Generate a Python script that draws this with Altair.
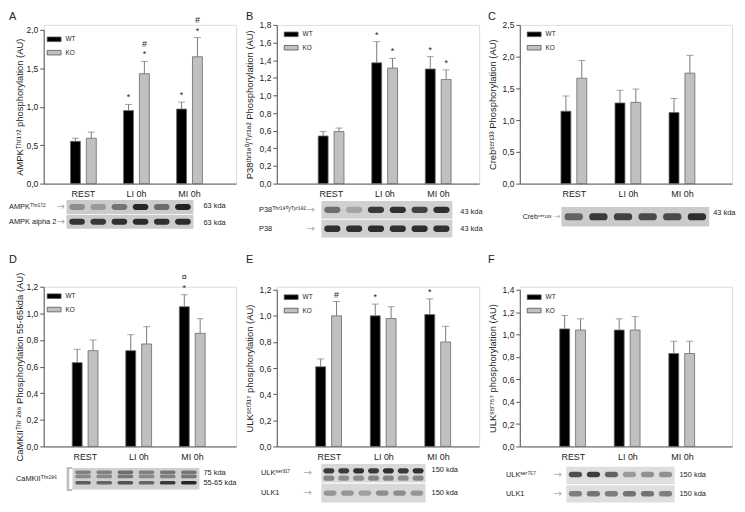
import altair as alt
import pandas as pd

FONT = "Liberation Sans"
AXIS_COL = "#555555"
ERR_COL = "#7a7a7a"
WT_FILL = "#000000"
KO_FILL = "#c0c0c0"

CATS = ["REST", "LI 0h", "MI 0h"]
GROUPS = ["WT", "KO"]

# ---------------- bar values (mean) and upper error (SEM) ----------------
A_WT = [0.55, 0.95, 0.97]
A_WT_ERR = [0.04, 0.08, 0.09]
A_KO = [0.59, 1.43, 1.65]
A_KO_ERR = [0.08, 0.16, 0.25]

B_WT = [0.54, 1.37, 1.30]
B_WT_ERR = [0.05, 0.24, 0.14]
B_KO = [0.59, 1.31, 1.18]
B_KO_ERR = [0.04, 0.11, 0.11]

C_WT = [1.14, 1.27, 1.12]
C_WT_ERR = [0.24, 0.20, 0.22]
C_KO = [1.66, 1.28, 1.74]
C_KO_ERR = [0.28, 0.21, 0.28]

D_WT = [0.63, 0.72, 1.05]
D_WT_ERR = [0.10, 0.12, 0.09]
D_KO = [0.72, 0.77, 0.85]
D_KO_ERR = [0.08, 0.13, 0.11]

E_WT = [0.61, 1.00, 1.01]
E_WT_ERR = [0.06, 0.09, 0.12]
E_KO = [1.00, 0.98, 0.80]
E_KO_ERR = [0.11, 0.09, 0.12]

F_WT = [1.05, 1.04, 0.83]
F_WT_ERR = [0.12, 0.10, 0.11]
F_KO = [1.04, 1.04, 0.83]
F_KO_ERR = [0.10, 0.12, 0.11]

# significance marks: (category, group, symbol, level)
A_MARKS = [("LI 0h", "WT", "*", 1), ("LI 0h", "KO", "*", 1), ("LI 0h", "KO", "#", 2),
           ("MI 0h", "WT", "*", 1), ("MI 0h", "KO", "*", 1), ("MI 0h", "KO", "#", 2)]
B_MARKS = [("LI 0h", "WT", "*", 1), ("LI 0h", "KO", "*", 1),
           ("MI 0h", "WT", "*", 1), ("MI 0h", "KO", "*", 1)]
C_MARKS = []
D_MARKS = [("MI 0h", "WT", "*", 1), ("MI 0h", "WT", "¤", 2)]
E_MARKS = [("REST", "KO", "#", 1), ("LI 0h", "WT", "*", 1), ("MI 0h", "WT", "*", 1)]
F_MARKS = []

# axis ticks
A_TICKS = [0.0, 0.5, 1.0, 1.5, 2.0]
B_TICKS = [0.0, 0.2, 0.4, 0.6, 0.8, 1.0, 1.2, 1.4, 1.6, 1.8]
C_TICKS = [0.0, 0.5, 1.0, 1.5, 2.0, 2.5]
D_TICKS = [0.0, 0.2, 0.4, 0.6, 0.8, 1.0, 1.2]
E_TICKS = [0.0, 0.2, 0.4, 0.6, 0.8, 1.0, 1.2]
F_TICKS = [0.0, 0.2, 0.4, 0.6, 0.8, 1.0, 1.2, 1.4]

A_TITLE = "AMPKᵀʰʳ¹⁷² phosphorylation (AU)"
B_TITLE = "P38ᵗʰʳ¹⁸⁰/ᵀʸʳ¹⁸² Phosphorylation (AU)"
C_TITLE = "Crebˢᵉʳ¹³³ Phosphorylation (AU)"
D_TITLE = "CaMKIIᵀʰʳ ²⁸⁶ Phosphorylation 55-65kda (AU)"
E_TITLE = "ULKˢᵉʳ³¹⁷ phosphorylation (AU)"
F_TITLE = "ULKˢᵉʳ⁷⁵⁷ phosphorylation (AU)"

# ---------------- western blot strips (band intensities per lane) ----------------
A_BLOT_NAMES = ["AMPKᵀʰʳ¹⁷²", "AMPK alpha 2"]
A_BLOT_ROWS = [(0, 0.5, [0.35, 0.28, 0.5, 0.95, 0.55, 0.98]),
               (1, 0.5, [0.88, 0.86, 0.9, 0.92, 0.9, 0.93])]
A_BLOT_KDA = [(0, 0.45, "63 kda"), (1, 0.6, "63 kda")]

B_BLOT_NAMES = ["P38ᵀʰʳ¹⁸⁰/ᵀʸʳ¹⁸²", "P38"]
B_BLOT_ROWS = [(0, 0.5, [0.55, 0.25, 0.85, 0.9, 0.8, 0.9]),
               (1, 0.5, [0.9, 0.9, 0.92, 0.9, 0.92, 0.9])]
B_BLOT_KDA = [(0, 0.6, "43 kda"), (1, 0.5, "43 kda")]

C_BLOT_NAMES = ["Crebˢᵉʳ¹³³"]
C_BLOT_ROWS = [(0, 0.5, [0.6, 0.85, 0.8, 0.75, 0.75, 0.9])]
C_BLOT_KDA = [(0, 0.3, "43 kda")]

D_BLOT_NAMES = ["CaMKIIᵀʰʳ²⁸⁶"]
D_BLOT_ROWS = [(0, 0.22, [0.45, 0.45, 0.55, 0.45, 0.5, 0.5]),
               (0, 0.40, [0.4, 0.4, 0.5, 0.4, 0.45, 0.5]),
               (0, 0.68, [0.65, 0.6, 0.7, 0.6, 0.85, 0.95])]
D_BLOT_KDA = [(0, 0.25, "75 kda"), (0, 0.7, "55-65 kda")]

E_BLOT_NAMES = ["ULKˢᵉʳ³¹⁷", "ULK1"]
E_BLOT_ROWS = [(0, 0.38, [0.85, 0.85, 0.9, 0.85, 0.9, 0.85, 0.9]),
               (0, 0.75, [0.45, 0.4, 0.4, 0.45, 0.45, 0.4, 0.45]),
               (1, 0.5, [0.35, 0.35, 0.3, 0.4, 0.4, 0.35])]
E_BLOT_KDA = [(0, 0.35, "150 kda"), (1, 0.5, "150 kda")]

F_BLOT_NAMES = ["ULKˢᵉʳ⁷⁵⁷", "ULK1"]
F_BLOT_ROWS = [(0, 0.45, [0.75, 0.85, 0.65, 0.35, 0.4, 0.4]),
               (1, 0.5, [0.5, 0.55, 0.5, 0.55, 0.55, 0.5])]
F_BLOT_KDA = [(0, 0.45, "150 kda"), (1, 0.5, "150 kda")]

LABEL_EXPR = "replace(format(datum.value, '.1f'), '.', ',')"


def blot_group(names, rows, kdas, g):
    ns = len(names)
    bxs = alt.Scale(domain=[0, 1], range=[g["x0"], g["x1"]], nice=False, zero=False)
    bys = alt.Scale(domain=[0, ns], range=[g["y0"], g["y1"]], nice=False, zero=False)
    sdf = pd.DataFrame({"a": [0.0] * ns, "b": [1.0] * ns,
                        "top": [s + 0.03 for s in range(ns)],
                        "bot": [s + 0.97 for s in range(ns)]})
    bg = alt.Chart(sdf).mark_rect(color=g["bg"]).encode(
        x=alt.X("a:Q", scale=bxs, axis=None), x2="b:Q",
        y=alt.Y("top:Q", scale=bys, axis=None), y2="bot:Q")
    brows = []
    for s, pos, vals in rows:
        n = len(vals)
        for j, v in enumerate(vals):
            c = (j + 0.5) / n
            brows.append(dict(a=c - 0.37 / n, b=c + 0.37 / n,
                              top=s + pos - g["bh"], bot=s + pos + g["bh"], op=v))
    bdf = pd.DataFrame(brows)
    band = alt.Chart(bdf).mark_rect(color="#1e1e1e", cornerRadius=3).encode(
        x=alt.X("a:Q", scale=bxs, axis=None), x2="b:Q",
        y=alt.Y("top:Q", scale=bys, axis=None), y2="bot:Q",
        opacity=alt.Opacity("op:Q", scale=None, legend=None))
    ndf = pd.DataFrame({"yc": [s + 0.5 for s in range(ns)], "name": names})
    layers = [bg, band]
    layers.append(alt.Chart(ndf).mark_text(align="left", baseline="middle",
                                           fontSize=g.get("fs", 7.5),
                                           font=FONT, color="#222222").encode(
        x=alt.value(g["lx"]), y=alt.Y("yc:Q", scale=bys, axis=None), text="name:N"))
    if g.get("arrow", True):
        layers.append(alt.Chart(ndf).mark_text(align="left", baseline="middle",
                                               fontSize=g.get("afs", 10),
                                               font="DejaVu Sans", color="#aaaaaa").encode(
            x=alt.value(g["ax"]), y=alt.Y("yc:Q", scale=bys, axis=None), text=alt.value("→")))
    else:
        layers.append(alt.Chart(ndf).mark_text(align="left", baseline="middle", fontSize=26,
                                               font="DejaVu Sans", color="#bbbbbb").encode(
            x=alt.value(g["ax"]), y=alt.Y("yc:Q", scale=bys, axis=None), text=alt.value("[")))
    kdf = pd.DataFrame({"yc": [s + p for s, p, t in kdas], "txt": [t for s, p, t in kdas]})
    layers.append(alt.Chart(kdf).mark_text(align="left", baseline="middle", fontSize=7.5,
                                           font=FONT, color="#222222").encode(
        x=alt.value(g["kx"]), y=alt.Y("yc:Q", scale=bys, axis=None), text="txt:N"))
    return alt.layer(*layers)


def panel(p):
    W, H = p["W"], p["H"]
    rows = []
    for i, c in enumerate(CATS):
        rows.append(dict(cat=c, grp="WT", val=p["wt"][i], hi=p["wt"][i] + p["wt_err"][i]))
        rows.append(dict(cat=c, grp="KO", val=p["ko"][i], hi=p["ko"][i] + p["ko_err"][i]))
    df = pd.DataFrame(rows)

    step, c0 = p["step"], p["c0"]
    po = (W / step - 3) / 2
    align = (c0 - step / 2) / (W - 3 * step)
    xscale = alt.Scale(domain=CATS, paddingInner=0, paddingOuter=po, align=align)
    xoscale = alt.Scale(domain=GROUPS, paddingInner=0, paddingOuter=step / 32 - 1)
    xaxis = alt.Axis(title=None, ticks=False, labelAngle=0, labelFontSize=9, labelPadding=6,
                     labelOffset=p.get("loff", 0), domainColor=AXIS_COL, labelColor="#222222",
                     labelFont=FONT)
    yscale = alt.Scale(domain=[0, p["ymax"]], range=[H, p["ytop"]], nice=False, zero=True)
    yaxis = alt.Axis(values=p["ticks"], title=p["title"], labelExpr=LABEL_EXPR, labelFontSize=8.5,
                     labelFont=FONT, labelColor="#222222", tickSize=4, tickColor=AXIS_COL,
                     domainColor=AXIS_COL, labelPadding=2, titleFont=FONT, titleFontSize=9.5,
                     titleFontWeight="normal", titleColor="#222222", titlePadding=p.get("tpad", 5),
                     titleLimit=400, grid=False)

    X = alt.X("cat:N", sort=CATS, scale=xscale, axis=xaxis)
    XO = alt.XOffset("grp:N", sort=GROUPS, scale=xoscale)

    def Y(f):
        return alt.Y(f + ":Q", scale=yscale, axis=yaxis)

    bars = alt.Chart(df).mark_bar(width=10, stroke="#6a6a6a", strokeWidth=0.8).encode(
        x=X, xOffset=XO, y=Y("val"),
        color=alt.Color("grp:N", sort=GROUPS,
                        scale=alt.Scale(domain=GROUPS, range=[WT_FILL, KO_FILL]),
                        legend=alt.Legend(title=None, orient="none", legendX=p["lg"][0],
                                          legendY=p["lg"][1], padding=0,
                                          symbolType="M-1,-0.33H1V0.33H-1Z", symbolSize=196,
                                          symbolStrokeColor="#555555", symbolStrokeWidth=0.8,
                                          labelFontSize=6.5, labelFont=FONT, labelColor="#222222",
                                          rowPadding=1.5, labelOffset=4)))
    rule = alt.Chart(df).mark_rule(color=ERR_COL, strokeWidth=1).encode(
        x=X, xOffset=XO, y=Y("val"), y2="hi:Q")
    cap = alt.Chart(df).mark_tick(color=ERR_COL, size=7, thickness=1).encode(
        x=X, xOffset=XO, y=Y("hi"))
    layers = [bars, rule, cap]

    if p["marks"]:
        mdf = pd.DataFrame(p["marks"], columns=["cat", "grp", "sym", "lvl"]).merge(
            df[["cat", "grp", "hi"]], on=["cat", "grp"])
        for lvl, dy in ((1, -2), (2, -13)):
            sub = mdf[mdf["lvl"] == lvl]
            if len(sub):
                layers.append(alt.Chart(sub).mark_text(baseline="bottom", dy=dy, fontSize=9,
                                                       font=FONT, color="#222222").encode(
                    x=X, xOffset=XO, y=Y("hi"), text="sym:N"))

    ldf = pd.DataFrame({"t": [p["letter"]]})
    layers.append(alt.Chart(ldf).mark_text(align="left", baseline="top", fontSize=11, font=FONT,
                                           color="#222222").encode(
        x=alt.value(p["letter_xy"][0]), y=alt.value(p["letter_xy"][1]), text="t:N"))

    bars_group = alt.layer(*layers)
    blot = blot_group(p["bnames"], p["brows"], p["bkda"], p["bgeom"])
    return alt.layer(bars_group, blot).resolve_scale(x="independent", y="independent").properties(
        width=W, height=H)


H1, H2 = 160, 161
PANELS = [
    dict(letter="A", wt=A_WT, wt_err=A_WT_ERR, ko=A_KO, ko_err=A_KO_ERR, marks=A_MARKS,
         ymax=2.0, ticks=A_TICKS, title=A_TITLE, W=194, H=H1, ytop=5, c0=40, step=53.5, tpad=2,
         lg=(3, 7), letter_xy=(-35, -14), bnames=A_BLOT_NAMES, brows=A_BLOT_ROWS, bkda=A_BLOT_KDA,
         bgeom=dict(x0=23, x1=151, y0=176, y1=206, bh=0.2, bg="#cbcbcb", lx=-35, ax=13, kx=161)),
    dict(letter="B", wt=B_WT, wt_err=B_WT_ERR, ko=B_KO, ko_err=B_KO_ERR, marks=B_MARKS,
         ymax=1.8, ticks=B_TICKS, title=B_TITLE, W=204, H=H1, ytop=0, c0=55, step=54,
         lg=(7, 2), letter_xy=(-31, -14), bnames=B_BLOT_NAMES, brows=B_BLOT_ROWS, bkda=B_BLOT_KDA,
         bgeom=dict(x0=45, x1=177, y0=177, y1=215, bh=0.17, bg="#d0d0d0", lx=-18, ax=30, kx=185)),
    dict(letter="C", wt=C_WT, wt_err=C_WT_ERR, ko=C_KO, ko_err=C_KO_ERR, marks=C_MARKS,
         ymax=2.5, ticks=C_TICKS, title=C_TITLE, W=214, H=H1, ytop=0, c0=55, step=54.5,
         lg=(7, 2), letter_xy=(-32, -14), bnames=C_BLOT_NAMES, brows=C_BLOT_ROWS, bkda=C_BLOT_KDA,
         bgeom=dict(x0=42, x1=191, y0=183, y1=204, bh=0.17, bg="#cbcbcb", lx=3, ax=34, kx=195,
                    fs=7, afs=8)),
    dict(letter="D", wt=D_WT, wt_err=D_WT_ERR, ko=D_KO, ko_err=D_KO_ERR, marks=D_MARKS,
         ymax=1.2, ticks=D_TICKS, title=D_TITLE, W=194, H=H2, ytop=0, c0=42, step=54, tpad=2,
         lg=(3, 2), letter_xy=(-35, -33), bnames=D_BLOT_NAMES, brows=D_BLOT_ROWS, bkda=D_BLOT_KDA,
         bgeom=dict(x0=29, x1=157, y0=182, y1=205, bh=0.08, bg="#d0d0d0", lx=-28, ax=21, kx=161,
                    arrow=False)),
    dict(letter="E", wt=E_WT, wt_err=E_WT_ERR, ko=E_KO, ko_err=E_KO_ERR, marks=E_MARKS,
         ymax=1.2, ticks=E_TICKS, title=E_TITLE, W=204, H=H2, ytop=3, c0=53, step=55,
         lg=(7, 3), letter_xy=(-31, -33), bnames=E_BLOT_NAMES, brows=E_BLOT_ROWS, bkda=E_BLOT_KDA,
         bgeom=dict(x0=45, x1=150, y0=178, y1=218, bh=0.13, bg="#d8d8d8", lx=-16, ax=27, kx=156)),
    dict(letter="F", wt=F_WT, wt_err=F_WT_ERR, ko=F_KO, ko_err=F_KO_ERR, marks=F_MARKS,
         ymax=1.4, ticks=F_TICKS, title=F_TITLE, W=214, H=H2, ytop=3, c0=54, step=55,
         lg=(7, 3), letter_xy=(-32, -33), bnames=F_BLOT_NAMES, brows=F_BLOT_ROWS, bkda=F_BLOT_KDA,
         bgeom=dict(x0=47, x1=156, y0=181, y1=218, bh=0.15, bg="#dedede", lx=-14, ax=34, kx=161)),
]

charts = [panel(p) for p in PANELS]
chart = alt.concat(*charts, columns=3, spacing={"row": 104, "column": 41}, bounds="flush",
                   align="each").resolve_scale(color="independent").properties(
    padding=0, background="white")
chart = chart.configure_view(strokeWidth=0).configure(font=FONT)

chart.save("out.html", embed_options={"renderer": "svg", "actions": False})
